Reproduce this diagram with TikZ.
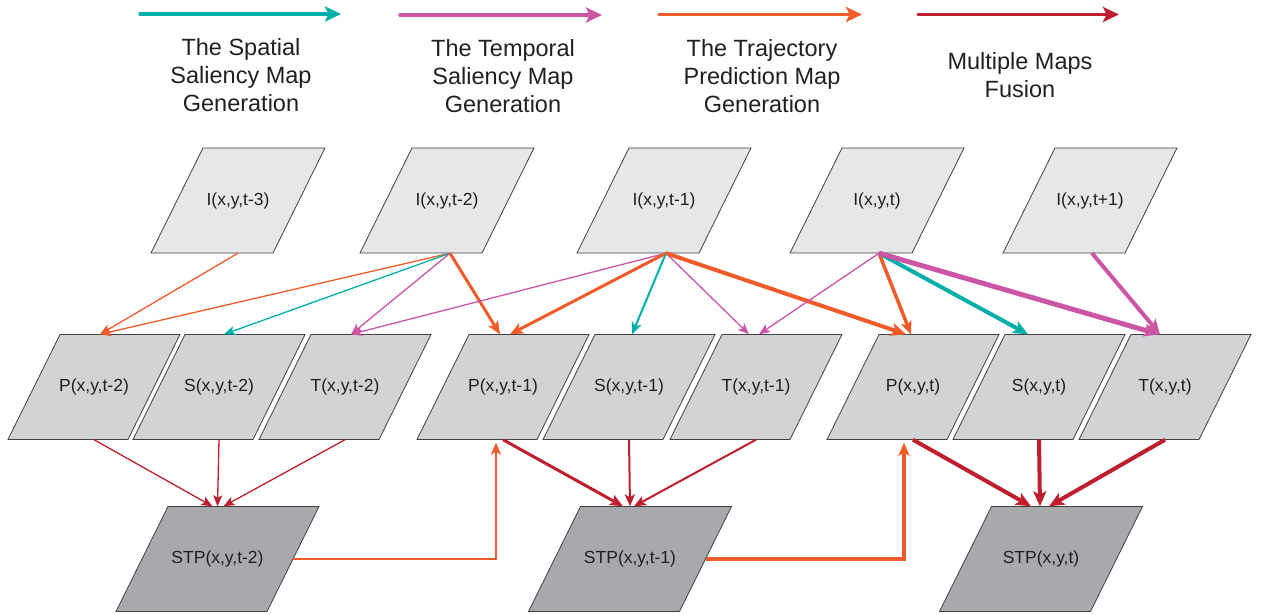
\documentclass[tikz,border=0pt]{standalone}
\usepackage{fontspec}
\setmainfont{Liberation Sans}
\usetikzlibrary{arrows.meta}
\definecolor{cteal}{RGB}{0,176,168}
\definecolor{cpink}{RGB}{204,86,166}
\definecolor{corange}{RGB}{241,90,41}
\definecolor{cred}{RGB}{190,30,45}
\definecolor{fillI}{RGB}{230,231,232}
\definecolor{fillM}{RGB}{209,211,212}
\definecolor{fillB}{RGB}{167,169,172}
\definecolor{edgec}{RGB}{65,64,66}
\definecolor{txt}{RGB}{35,31,32}
% \mypara{name}{x}{y}{edge width}{fill}{text}
\newcommand\mypara[6]{%
  \filldraw[parashape, fill=#5]
    ({#2-#4/2+26},{#3-52.5}) -- ({#2+#4/2+26},{#3-52.5}) --
    ({#2+#4/2-26},{#3+52.5}) -- ({#2-#4/2-26},{#3+52.5}) -- cycle;
  \node[paratext, minimum width=#4 pt] (#1) at (#2,#3) {#6};}
\tikzset{
  parashape/.style={draw=edgec, line width=0.8pt, line join=miter},
  paratext/.style={rectangle, inner sep=0pt, minimum height=105pt, text=txt,
    font=\fontsize{17.5}{20}\selectfont},
  legtext/.style={align=center, text=txt, font=\fontsize{23.5}{28}\selectfont},
  wthin/.style={line width=1.3pt, -{Stealth[length=11pt,width=9pt,inset=2.5pt]}},
  wmed/.style={line width=2pt, -{Stealth[length=12pt,width=10pt,inset=3pt]}},
  wthick/.style={line width=3pt, -{Stealth[length=13pt,width=11pt,inset=3pt]}},
  wvthick/.style={line width=4pt, -{Stealth[length=15pt,width=13pt,inset=3.5pt]}},
  wlegend/.style={line width=3.5pt, line cap=round, -{Stealth[length=16pt,width=15pt,inset=3.5pt]}},
}
\begin{document}
\begin{tikzpicture}[x=1pt,y=-1pt]
\useasboundingbox (0,0) rectangle (1262,615);

% legend
\coordinate (l1a) at (140,14); \coordinate (l1b) at (341,14);
\coordinate (l2a) at (400,15); \coordinate (l2b) at (602,15);
\coordinate (l3a) at (659,14.5); \coordinate (l3b) at (862,14.5);
\coordinate (l4a) at (918,14.5); \coordinate (l4b) at (1119,14.5);
\draw[wlegend, cteal] (l1a) -- (l1b);
\draw[wlegend, cpink] (l2a) -- (l2b);
\draw[wlegend, corange] (l3a) -- (l3b);
\draw[wlegend, cred] (l4a) -- (l4b);
\node[legtext] (t1) at (241,75) {The Spatial\\Saliency Map\\Generation};
\node[legtext] (t2) at (503,76) {The Temporal\\Saliency Map\\Generation};
\node[legtext] (t3) at (762,76) {The Trajectory\\Prediction Map\\Generation};
\node[legtext] (t4) at (1020,75) {Multiple Maps\\Fusion};

% input row
\mypara{I3}{238}{200.5}{122}{fillI}{I(x,y,t-3)}
\mypara{I2}{447}{200.5}{122}{fillI}{I(x,y,t-2)}
\mypara{I1}{664}{200.5}{122}{fillI}{I(x,y,t-1)}
\mypara{I0}{877}{200.5}{122}{fillI}{I(x,y,t)}
\mypara{Ip}{1090}{200.5}{122}{fillI}{I(x,y,t+1)}

% middle row
\mypara{P2}{94}{387}{120}{fillM}{P(x,y,t-2)}
\mypara{S2}{219}{387}{120}{fillM}{S(x,y,t-2)}
\mypara{T2}{345}{387}{120}{fillM}{T(x,y,t-2)}
\mypara{P1}{503}{387}{120}{fillM}{P(x,y,t-1)}
\mypara{S1}{629}{387}{120}{fillM}{S(x,y,t-1)}
\mypara{T1}{756}{387}{120}{fillM}{T(x,y,t-1)}
\mypara{P0}{913}{387}{120}{fillM}{P(x,y,t)}
\mypara{S0}{1039}{387}{120}{fillM}{S(x,y,t)}
\mypara{T0}{1165}{387}{120}{fillM}{T(x,y,t)}

% bottom row
\mypara{Q2}{217.5}{559}{151}{fillB}{STP(x,y,t-2)}
\mypara{Q1}{630}{559}{151}{fillB}{STP(x,y,t-1)}
\mypara{Q0}{1041}{559}{151}{fillB}{STP(x,y,t)}

% from I(t-3)
\draw[wthin, corange] (I3.center |- I3.south) -- ([xshift=6pt]P2.center |- P2.north);
% from I(t-2)
\draw[wthin, corange] ([xshift=3pt]I2.center |- I2.south) -- ([xshift=6pt]P2.center |- P2.north);
\draw[wthin, cteal] ([xshift=3pt]I2.center |- I2.south) -- ([xshift=5pt]S2.center |- S2.north);
\draw[wthin, cpink] ([xshift=3pt]I2.center |- I2.south) -- ([xshift=6pt]T2.center |- T2.north);
\draw[wthick, corange] ([xshift=3pt]I2.center |- I2.south) -- ([xshift=-3pt]P1.center |- P1.north);
% from I(t-1)
\draw[wthin, cpink] ([xshift=2pt]I1.center |- I1.south) -- ([xshift=6pt]T2.center |- T2.north);
\draw[wthick, corange] ([xshift=2pt]I1.center |- I1.south) -- ([xshift=7pt]P1.center |- P1.north);
\draw[wmed, cteal] ([xshift=2pt]I1.center |- I1.south) -- ([xshift=3pt]S1.center |- S1.north);
\draw[wthin, cpink] ([xshift=2pt]I1.center |- I1.south) -- ([xshift=-7pt]T1.center |- T1.north);
\draw[wvthick, corange] ([xshift=2pt]I1.center |- I1.south) -- ([xshift=-7pt]P0.center |- P0.north);
% from I(t)
\draw[wthin, cpink] ([xshift=2pt]I0.center |- I0.south) -- ([xshift=3pt]T1.center |- T1.north);
\draw[wthick, line width=3.5pt, corange] ([xshift=2pt]I0.center |- I0.south) -- ([xshift=-2pt]P0.center |- P0.north);
\draw[wvthick, cteal] ([xshift=2pt]I0.center |- I0.south) -- ([xshift=-11pt]S0.center |- S0.north);
\draw[wvthick, line width=5pt, cpink] ([xshift=2pt]I0.center |- I0.south) -- ([xshift=-6pt]T0.center |- T0.north);
% from I(t+1)
\draw[wvthick, cpink] ([xshift=2pt]Ip.center |- Ip.south) -- ([xshift=-5pt]T0.center |- T0.north);

% fusion
\draw[wthin, cred] (P2.center |- P2.south) -- ([xshift=-5pt]Q2.center |- Q2.north);
\draw[wthin, cred] (S2.center |- S2.south) -- ([xshift=0pt]Q2.center |- Q2.north);
\draw[wthin, cred] (T2.center |- T2.south) -- ([xshift=6pt]Q2.center |- Q2.north);
\draw[wthick, cred] (P1.center |- P1.south) -- ([xshift=-7pt]Q1.center |- Q1.north);
\draw[wmed, cred] (S1.center |- S1.south) -- ([xshift=0pt]Q1.center |- Q1.north);
\draw[wmed, cred] (T1.center |- T1.south) -- ([xshift=4pt]Q1.center |- Q1.north);
\draw[wvthick, cred] (P0.center |- P0.south) -- ([xshift=-10pt]Q0.center |- Q0.north);
\draw[wvthick, cred] (S0.center |- S0.south) -- ([xshift=-1pt]Q0.center |- Q0.north);
\draw[wvthick, cred] (T0.center |- T0.south) -- ([xshift=8pt]Q0.center |- Q0.north);

% feedback
\draw[wmed, corange, shorten >=3pt] (Q2.east) -| ([xshift=-7pt]P1.center |- P1.south);
\draw[wthick, line width=3.5pt, corange, shorten >=3pt] (Q1.east) -| ([xshift=-9pt]P0.center |- P0.south);
\end{tikzpicture}
\end{document}
